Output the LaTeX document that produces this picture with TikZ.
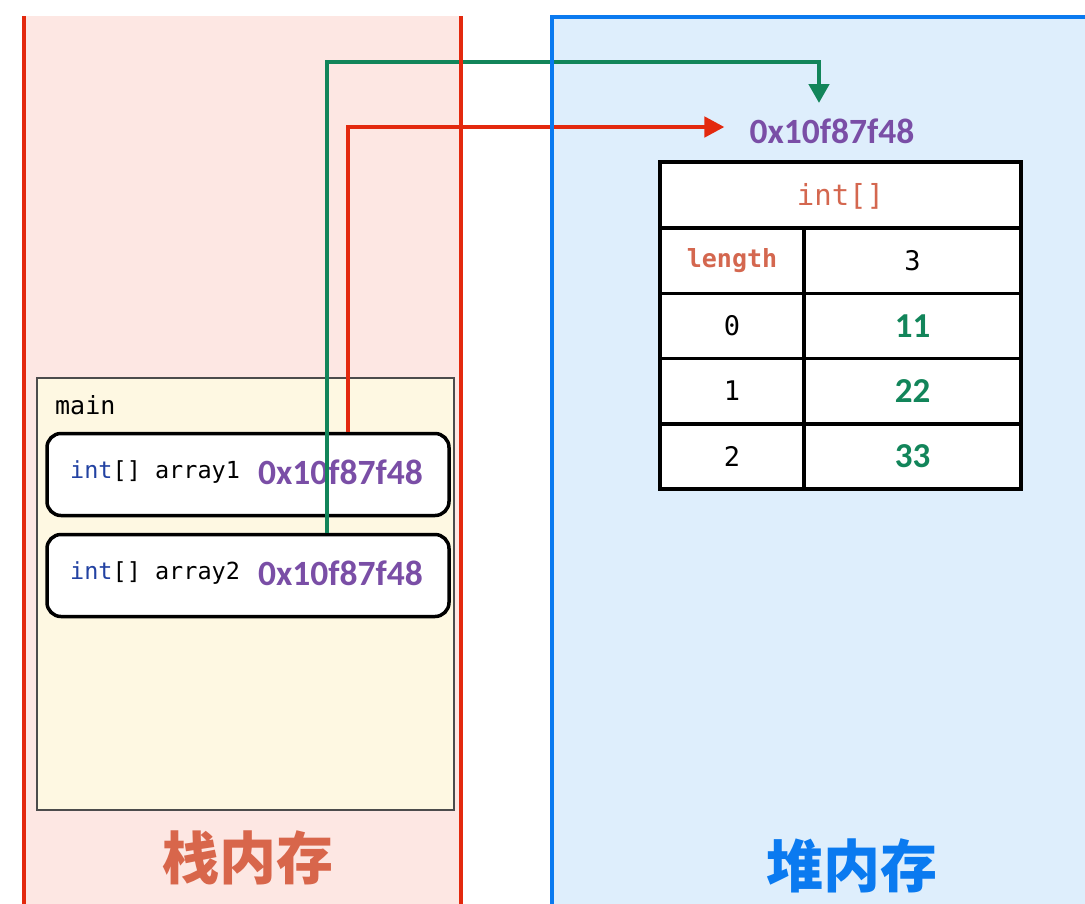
\documentclass[tikz,border=0pt]{standalone}
\usepackage{fontspec}
\setmainfont{Carlito}
\newfontfamily\mono{DejaVu Sans Mono}
\newfontfamily\cjk{Noto Sans CJK SC}
\usetikzlibrary{arrows.meta}
\definecolor{pinkfill}{HTML}{FDE7E3}
\definecolor{stackred}{HTML}{E3290E}
\definecolor{heapblue}{HTML}{0A7AF0}
\definecolor{bluefill}{HTML}{DEEEFC}
\definecolor{cream}{HTML}{FEF8E2}
\definecolor{linkgreen}{HTML}{12855A}
\definecolor{addrpurple}{HTML}{7A4EA6}
\definecolor{intblue}{HTML}{2242A2}
\definecolor{salmon}{HTML}{D4674F}
\definecolor{titlered}{HTML}{D8664B}
\tikzset{
  varbox/.style={draw=black, line width=3.5pt, fill=white, rounded corners=14pt,
    minimum width=402pt, minimum height=82pt, inner sep=0pt},
  cell/.style={draw=black, line width=3.5pt, fill=white, inner sep=0pt, minimum height=65pt},
  monotext/.style={font=\mono\fontsize{23.5}{28}\selectfont, inner sep=0pt},
  celltext/.style={font=\mono\fontsize{27}{30}\selectfont},
  addr/.style={font=\bfseries\fontsize{35.5}{40}\selectfont, text=addrpurple, inner sep=0pt},
  val/.style={font=\bfseries\fontsize{35}{40}\selectfont, text=linkgreen},
  link/.style={line width=4.5pt},
  title/.style={font=\cjk\bfseries\fontsize{57}{60}\selectfont, inner sep=0pt}
}
\begin{document}
\begin{tikzpicture}[x=1pt,y=-1pt]
\useasboundingbox (0,0) rectangle (1085,903);
% panels fill
\fill[pinkfill] (25,16) rectangle (461,910);
\fill[bluefill] (552,17) rectangle (1095,910);
% main frame
\node[draw=black!70, line width=1.2pt, fill=cream, minimum width=417pt, minimum height=432pt, inner sep=0pt] (mainframe) at (245.5,594) {};
\node[monotext, anchor=west, font=\mono\fontsize{25}{28}\selectfont] (mainlbl) at (55,405) {main};
% variable boxes
\node[varbox] (a1) at (248,474.5) {};
\node[varbox] (a2) at (248,575.5) {};
\node[monotext, anchor=west] (a1t) at (70,472) {\textcolor{intblue}{int}[] array1};
\node[addr, anchor=west] (a1v) at (258,472) {0x10f87f48};
\node[monotext, anchor=west] (a2t) at (70,573) {\textcolor{intblue}{int}[] array2};
\node[addr, anchor=west] (a2v) at (258,573) {0x10f87f48};
% heap address
\node[addr] (haddr) at (832,131) {0x10f87f48};
% table
\node[cell, minimum width=361pt, minimum height=66pt, font=\mono\fontsize{29}{32}\selectfont, text=salmon, text depth=2pt] (thead) at (840.5,195) {int[]};
\node[cell, minimum width=144pt, font=\mono\bfseries\fontsize{25}{28}\selectfont, text=salmon] (l0) at (732,261) {length};
\node[cell, minimum width=217pt, celltext] (r0) at (912.5,261) {\raisebox{-3pt}{3}};
\node[cell, minimum width=144pt, celltext] (l1) at (732,326) {\raisebox{-3pt}{0}};
\node[cell, minimum width=217pt, val] (r1) at (912.5,326) {\raisebox{-3pt}{11}};
\node[cell, minimum width=144pt, celltext] (l2) at (732,391) {\raisebox{-3pt}{1}};
\node[cell, minimum width=217pt, val] (r2) at (912.5,391) {\raisebox{-3pt}{22}};
\node[cell, minimum width=144pt, celltext] (l3) at (732,456.5) {\raisebox{-3pt}{2}};
\node[cell, minimum width=217pt, val] (r3) at (912.5,456.5) {\raisebox{-3pt}{33}};
% connectors
\coordinate (gx) at (327,62);
\coordinate (gtip) at (819,103);
\coordinate (rx) at (348,127);
\draw[link, draw=linkgreen, -{Triangle[length=19pt,width=20pt]}] (a2.north -| gx) -- (gx) -| (gtip);
\draw[link, draw=stackred, -{Triangle[length=20pt,width=20pt]}, shorten >=25pt] (a1.north -| rx) -- (rx) -- (rx -| haddr.west);
% panel borders
\draw[stackred, line width=3.5pt] (24,16) -- (24,910);
\draw[stackred, line width=4pt] (461,16) -- (461,910);
\draw[heapblue, line width=4.5pt] (552,910) -- (552,17) -- (1095,17);
% titles
\node[title, text=titlered] (stitle) at (248,858) {栈内存};
\node[title, text=heapblue] (htitle) at (852,866) {堆内存};
\end{tikzpicture}
\end{document}
